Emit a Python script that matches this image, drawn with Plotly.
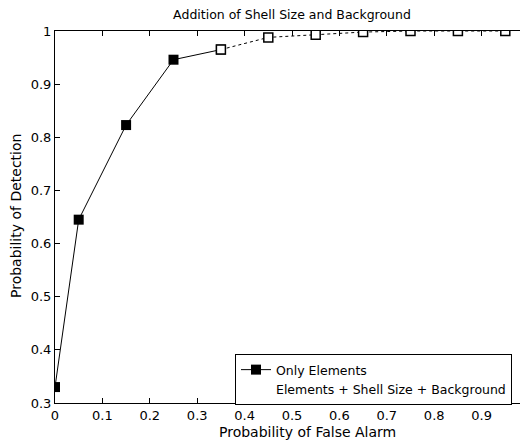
import plotly.graph_objects as go

x_only = [0.0, 0.05, 0.15, 0.25, 0.35]
y_only = [0.330, 0.645, 0.823, 0.946, 0.965]
x_all = [0.35, 0.45, 0.55, 0.65, 0.75, 0.85, 0.95]
y_all = [0.965, 0.988, 0.993, 0.998, 1.0, 1.0, 1.0]
xticks = [0, 0.1, 0.2, 0.3, 0.4, 0.5, 0.6, 0.7, 0.8, 0.9]
yticks = [0.3, 0.4, 0.5, 0.6, 0.7, 0.8, 0.9, 1.0]

FONT = "DejaVu Sans, Arial, sans-serif"
OFF = 8  # page body margin
W, H = 528 - OFF, 442 - OFF
# plot area in page pixels: left 55, top 31, bottom 403
L, T = 55 - OFF, 31 - OFF
B = H - (403 - OFF)
R = 0
pw, ph = W - L - R, H - T - B


def px(xp):
    return (xp - OFF - L) / pw


def py(yp):
    return (H - B - (yp - OFF)) / ph


fig = go.Figure()
fig.add_trace(go.Scatter(
    x=x_only, y=y_only, mode="lines+markers", name="Only Elements",
    line=dict(color="black", width=1),
    marker=dict(symbol="square", size=10, color="black"),
))
fig.add_trace(go.Scatter(
    x=x_all, y=y_all, mode="lines+markers", showlegend=False,
    line=dict(color="black", width=1, dash="dot"),
    marker=dict(symbol="square", size=9, color="white", line=dict(color="black", width=1.5)),
))
fig.add_trace(go.Scatter(
    x=[None], y=[None], mode="lines", name="Elements + Shell Size + Background",
    line=dict(color="rgba(0,0,0,0)", width=1),
))

fig.update_layout(
    width=W, height=H,
    margin=dict(l=L, r=R, t=T, b=B, autoexpand=False),
    paper_bgcolor="white", plot_bgcolor="white",
    font=dict(family=FONT, size=13, color="black"),
    title=dict(text="Addition of Shell Size and Background", x=(292 - OFF) / W, xanchor="center",
               y=1 - (15 - OFF) / H, yanchor="middle", font=dict(size=12.5)),
    showlegend=True,
    legend=dict(x=px(235), y=py(354), xanchor="left", yanchor="top",
                bordercolor="black", borderwidth=1, bgcolor="white",
                font=dict(size=12.5), tracegroupgap=0, itemwidth=30),
    xaxis=dict(range=[0, pw / 474], tickvals=xticks, ticktext=[f"{v:g}" for v in xticks],
               showline=True, linecolor="black", linewidth=1, mirror="ticks",
               ticks="inside", ticklen=5, tickcolor="black", showgrid=False, zeroline=False,
               tickfont=dict(size=13), automargin=False),
    yaxis=dict(range=[0.3, 1.0], tickvals=yticks, ticktext=[f"{v:g}" for v in yticks],
               showline=True, linecolor="black", linewidth=1, mirror=False,
               ticks="inside", ticklen=5, tickcolor="black", showgrid=False, zeroline=False,
               tickfont=dict(size=13), automargin=False),
    annotations=[
        dict(text="Probability of False Alarm", xref="paper", yref="paper",
             x=px(307), y=py(432), xanchor="center", yanchor="middle",
             showarrow=False, font=dict(size=14)),
        dict(text="Probability of Detection", xref="paper", yref="paper", textangle=-90,
             x=px(16), y=py(216), xanchor="center", yanchor="middle",
             showarrow=False, font=dict(size=14)),
    ],
)

fig.write_html("out.html")
